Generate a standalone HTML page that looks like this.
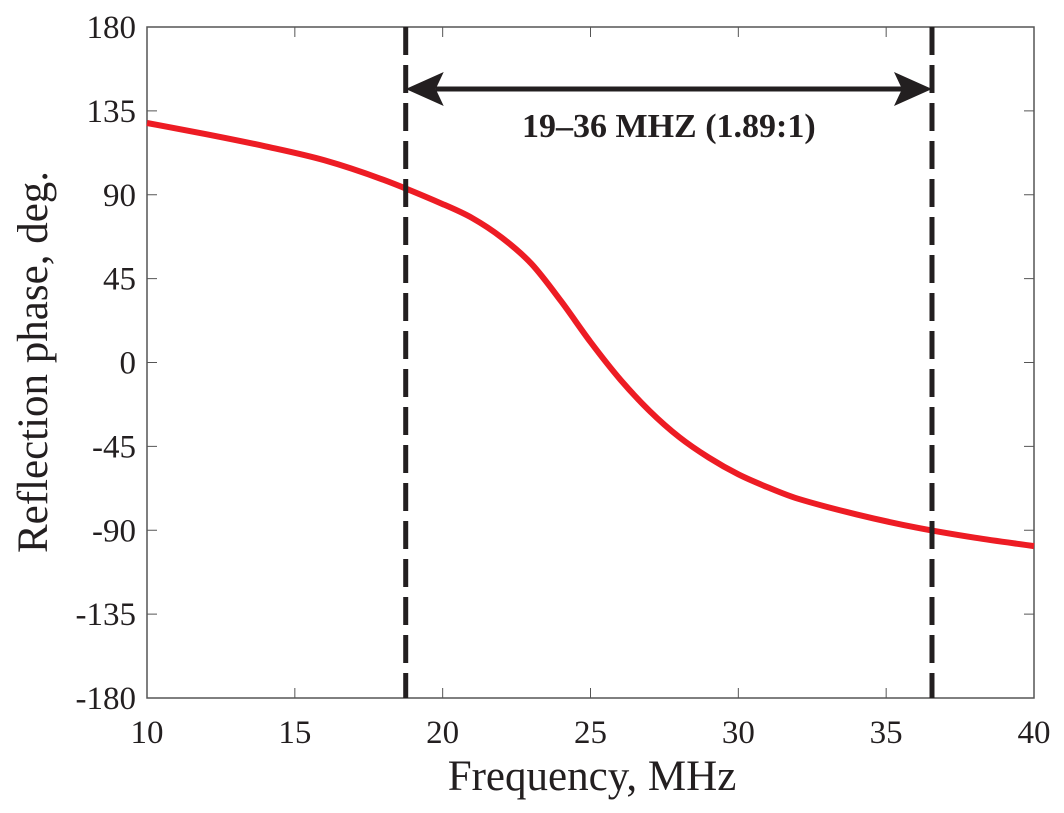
<!DOCTYPE html>
<html><head><meta charset="utf-8"><style>
body{margin:0;background:#fff}
text{font-family:"Liberation Serif",serif;fill:#231f20}
</style></head><body>
<svg width="1064" height="808" viewBox="0 0 1064 808" id="chart">
<g id="g"></g>
</svg>
<script>
const freqs=[10,12,14,16,18,20,21,22,23,24,25,26,27,28,29,30,31,32,34,36,38,40];
const phase=[128.5,122.5,116,108.5,98,85,77.5,67,53,33,11,-9,-26,-40,-51,-60,-67,-73,-81.5,-88.5,-94,-98.5];
const xTicks=[10,15,20,25,30,35,40];
const yTicks=[180,135,90,45,0,-45,-90,-135,-180];
const bandEdges=[18.75,36.55];
const L=147,R=1034,T=27,B=698;
const xs=v=>L+(v-10)/30*(R-L);
const ys=v=>T+(180-v)/360*(B-T);
const NS="http://www.w3.org/2000/svg",g=document.getElementById('g');
function mk(t,a,txt){const e=document.createElementNS(NS,t);for(const k in a)e.setAttribute(k,a[k]);if(txt!=null)e.textContent=txt;g.appendChild(e);return e;}
let e=mk('rect',{x:L,y:T,width:R-L,height:B-T,fill:'none',stroke:'#555',"stroke-width":1.5});

xTicks.forEach(v=>{const x=xs(v);
mk('line',{x1:x,y1:B,x2:x,y2:B-10,stroke:'#555'});mk('line',{x1:x,y1:T,x2:x,y2:T+10,stroke:'#555'});
const t=mk('text',{x:x,y:B+45,"text-anchor":'middle',"font-size":33},v);
});
yTicks.forEach(v=>{const y=ys(v);
mk('line',{x1:L,y1:y,x2:L+10,y2:y,stroke:'#555'});mk('line',{x1:R,y1:y,x2:R-10,y2:y,stroke:'#555'});
const t=mk('text',{x:L-11,y:y+11,"text-anchor":'end',"font-size":33},v);
});
const P=freqs.map((f,i)=>[xs(f),ys(phase[i])]);
let d='M'+P[0][0]+' '+P[0][1];
for(let i=0;i<P.length-1;i++){const p0=P[Math.max(0,i-1)],p1=P[i],p2=P[i+1],p3=P[Math.min(P.length-1,i+2)];
const h=p2[0]-p1[0],s1=(p2[1]-p0[1])/(p2[0]-p0[0]||1),s2=(p3[1]-p1[1])/(p3[0]-p1[0]||1);
d+=`C${p1[0]+h/3} ${p1[1]+s1*h/3} ${p2[0]-h/3} ${p2[1]-s2*h/3} ${p2[0]} ${p2[1]}`;}
e=mk('path',{d:d,fill:'none',stroke:'#ed1c24',"stroke-width":6});

bandEdges.forEach(v=>{const l=mk('line',{x1:xs(v),y1:T,x2:xs(v),y2:B,stroke:'#231f20',"stroke-width":5,"stroke-dasharray":'28 10'});
});
const ay=89,x1=xs(bandEdges[0]),x2=xs(bandEdges[1]);
e=mk('line',{x1:x1+30,y1:ay,x2:x2-30,y2:ay,stroke:'#231f20',"stroke-width":5});

mk('polygon',{points:`${x1},${ay} ${x1+38},${ay-17} ${x1+30},${ay} ${x1+38},${ay+17}`,fill:'#231f20'});
mk('polygon',{points:`${x2},${ay} ${x2-38},${ay-17} ${x2-30},${ay} ${x2-38},${ay+17}`,fill:'#231f20'});
e=mk('text',{x:(x1+x2)/2,y:137,"text-anchor":'middle',"font-size":34,"font-weight":'bold'},'19–36 MHZ (1.89:1)');

e=mk('text',{x:592,y:790,"text-anchor":'middle',"font-size":43},'Frequency, MHz');

e=mk('text',{x:0,y:0,"text-anchor":'middle',"font-size":43,transform:'translate(47,362) rotate(-90)'},'Reflection phase, deg.');

</script>
</body></html>
